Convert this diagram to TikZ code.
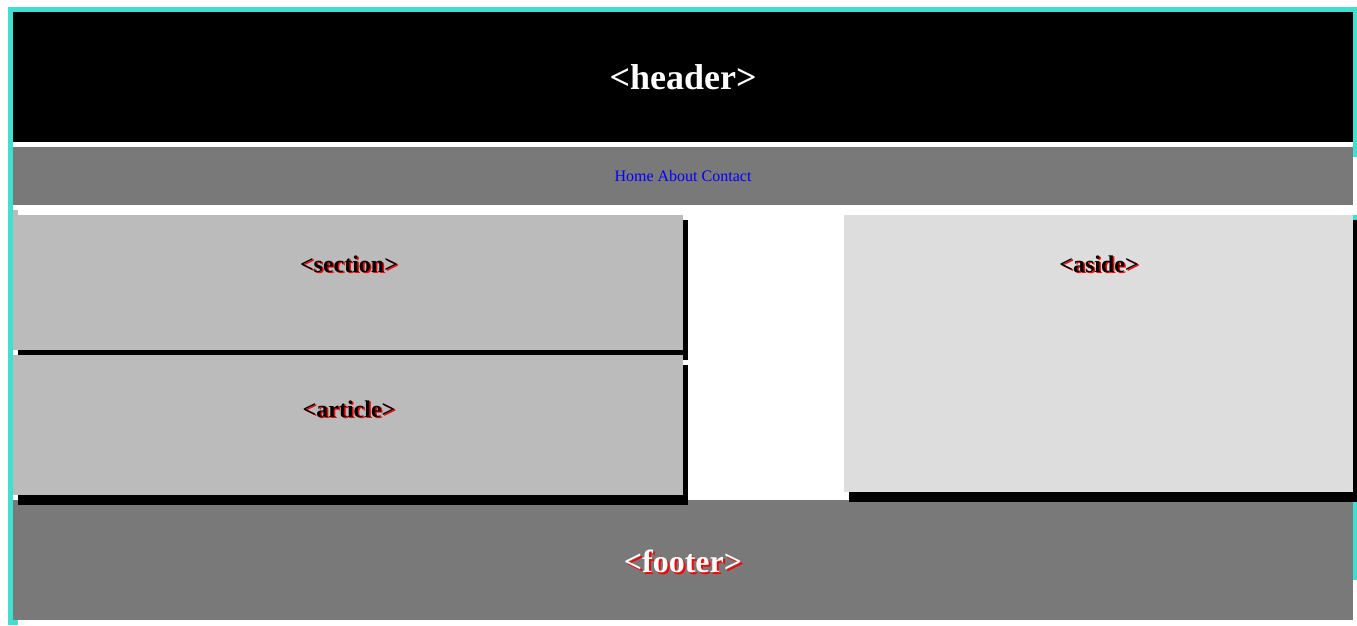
\documentclass[tikz,border=0pt]{standalone}
\usepackage{fontspec}
\setmainfont{Liberation Serif}
\definecolor{turq}{RGB}{64,224,208}
\definecolor{navgray}{RGB}{121,121,121}
\definecolor{boxgray}{RGB}{187,187,187}
\definecolor{asidegray}{RGB}{221,221,221}
\definecolor{linkblue}{RGB}{0,0,255}
\tikzset{
  tagbig/.style={inner sep=0pt, font=\bfseries\fontsize{32}{36}\selectfont},
  tagmid/.style={inner sep=0pt, font=\bfseries\fontsize{24}{28}\selectfont},
  shade/.style={text=red}
}

\begin{document}
\begin{tikzpicture}[x=1pt,y=1pt,yscale=-1]
\useasboundingbox (0,0) rectangle (1357,625);

%Shape: Rectangle [page border]
\fill[turq] (8,7) rectangle (1357,12);
\fill[turq] (8,7) rectangle (13,625);
\fill[turq] (8,620) rectangle (18,625);
\fill[turq] (1353,7) rectangle (1357,157);
\fill[turq] (1353,215) rectangle (1357,580);

%Shape: Rectangle [header]
\fill[black] (13,12) rectangle (1353,142);
%Shape: Rectangle [nav]
\fill[navgray] (13,147) rectangle (1353,205);
%Shape: Rectangle [footer]
\fill[navgray] (13,500) rectangle (1353,620);

%Shape: Rectangle [section + shadow]
\fill[boxgray] (13,210) rectangle (18,215);
\fill[black] (18,220) rectangle (688,360);
\fill[boxgray] (13,215) rectangle (683,350);
%Shape: Rectangle [article + shadow]
\fill[black] (18,365) rectangle (688,505);
\fill[boxgray] (13,355) rectangle (683,495);
%Shape: Rectangle [aside + shadow]
\fill[black] (849,220) rectangle (1357,502);
\fill[asidegray] (844,215) rectangle (1353,492);

% Text Node
\node[inner sep=0pt, text=white, font=\bfseries\fontsize{36}{40}\selectfont] (headerlabel) at (683,77) {<header>};
% Text Node
\node[inner sep=0pt, text=linkblue, font=\fontsize{16}{19}\selectfont] (navlinks) at (683,176) {Home About Contact};
% Text Node
\node[tagmid, shade] (sectionshade) at (350.5,265.5) {<section>};
\node[tagmid] (sectionlabel) at (349,264) {<section>};
% Text Node
\node[tagmid, shade] (articleshade) at (350.5,410.5) {<article>};
\node[tagmid] (articlelabel) at (349,409) {<article>};
% Text Node
\node[tagmid, shade] (asideshade) at (1100.5,265.5) {<aside>};
\node[tagmid] (asidelabel) at (1099,264) {<aside>};
% Text Node
\node[tagbig, shade] (footershade) at (685,563) {<footer>};
\node[tagbig, text=white] (footerlabel) at (683,561) {<footer>};

\end{tikzpicture}
\end{document}
